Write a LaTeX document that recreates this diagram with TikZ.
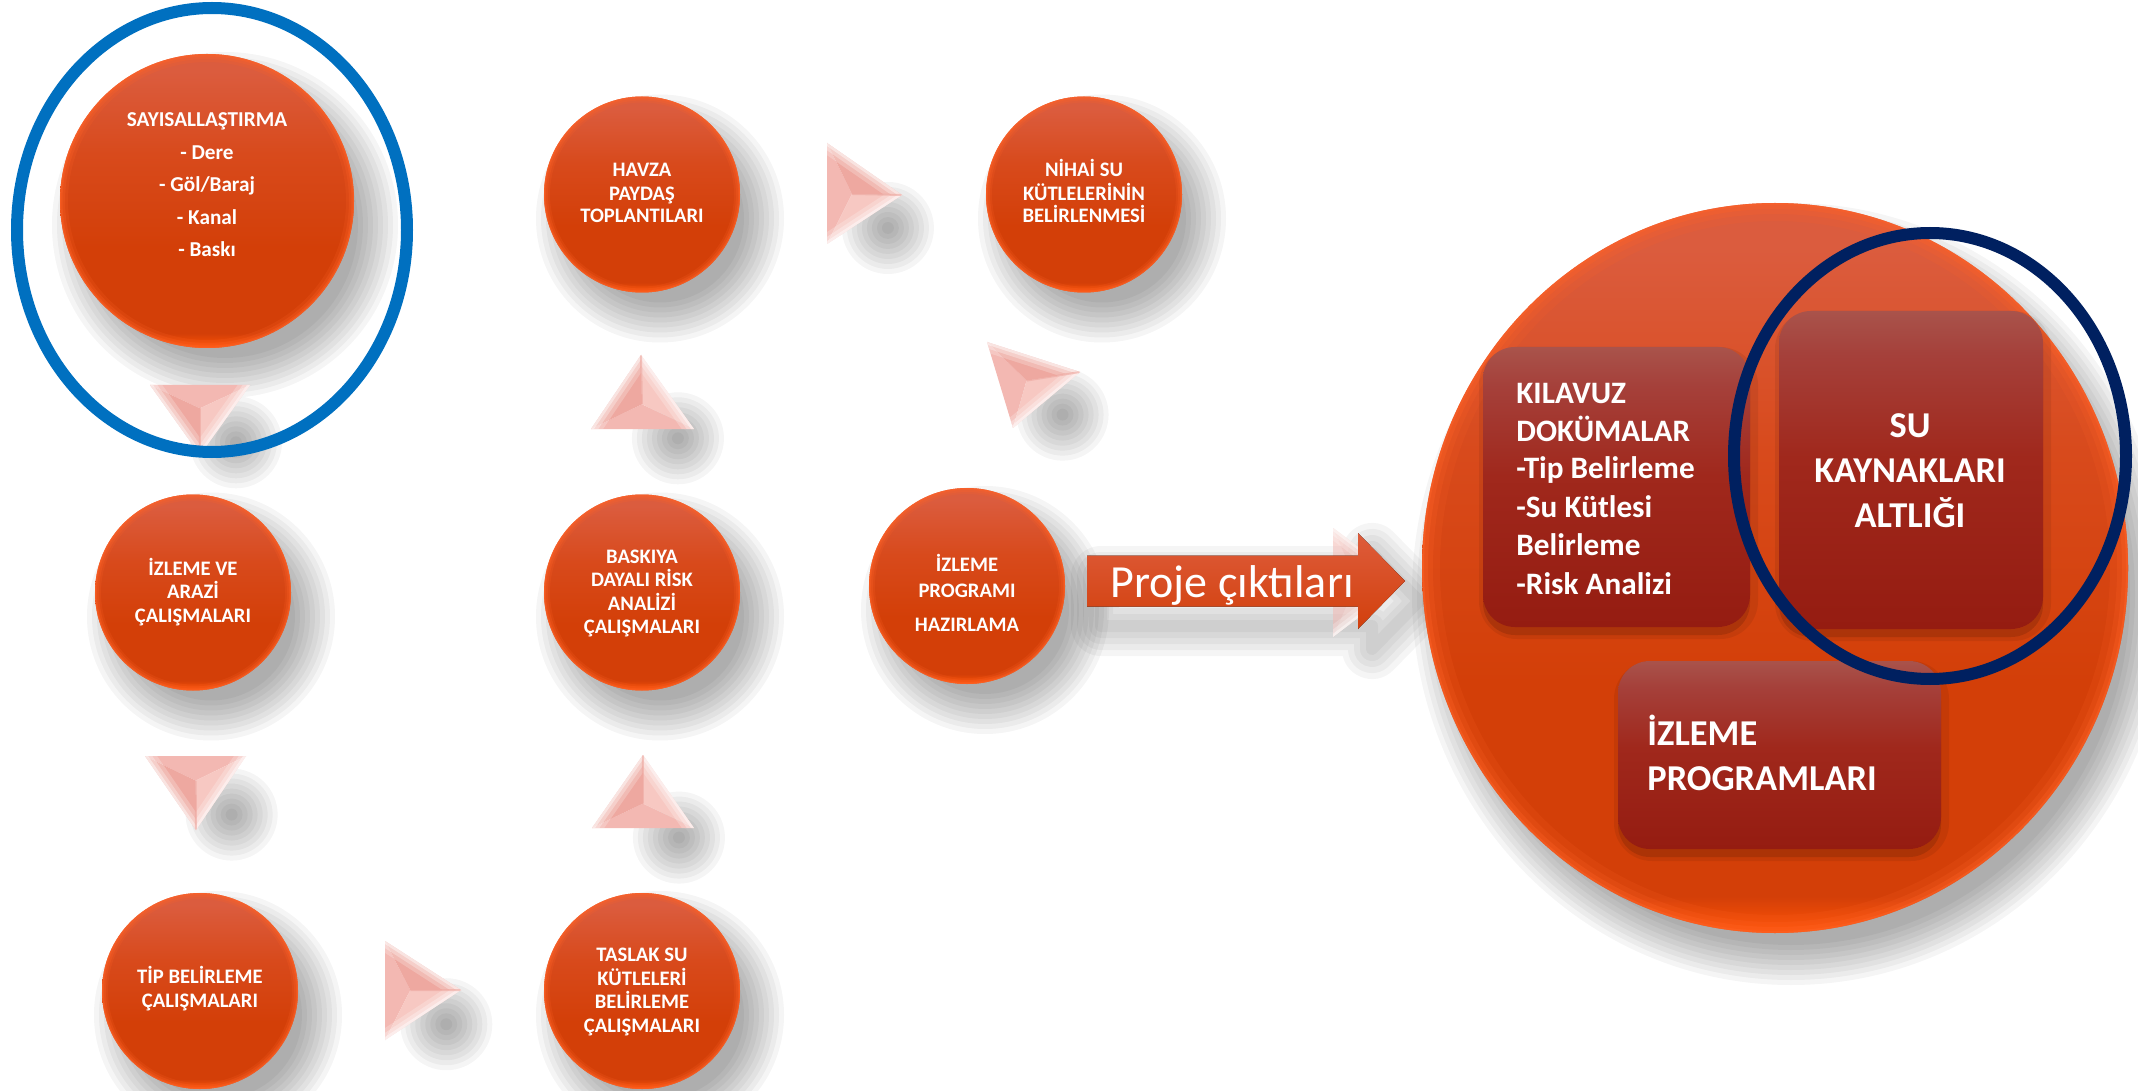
\documentclass[tikz,border=0pt]{standalone}
\usepackage{fontspec}
\setmainfont{Carlito}
\usetikzlibrary{calc,shapes.geometric}
\pgfdeclarelayer{bg}
\pgfsetlayers{bg,main}
\definecolor{balltop}{HTML}{DB5C3E}
\definecolor{ballmid}{HTML}{D84A1C}
\definecolor{ballbot}{HTML}{D33F08}
\definecolor{rimbot}{HTML}{FF5306}
\definecolor{rimglow}{HTML}{FF6226}
\definecolor{boxtop}{HTML}{A9534B}
\definecolor{boxupper}{HTML}{A5403A}
\definecolor{boxmid}{HTML}{A0281C}
\definecolor{boxbot}{HTML}{951C11}
\definecolor{pyrback}{HTML}{F3B8B2}
\definecolor{pyrlight}{HTML}{F7C8C2}
\definecolor{pyrdark}{HTML}{EEA8A0}
\definecolor{ringblue}{HTML}{0070C0}
\definecolor{ringnavy}{HTML}{002060}
\definecolor{arrtop}{HTML}{DE5C3C}
\definecolor{arrbot}{HTML}{D2400C}
\pgfdeclareverticalshading{ballshade}{100bp}{color(0bp)=(rimbot); color(25bp)=(rimbot); color(27.5bp)=(ballbot); color(42bp)=(ballbot); color(58bp)=(ballmid); color(72bp)=(balltop); color(100bp)=(balltop)}
\pgfdeclareverticalshading{boxshade}{100bp}{color(0bp)=(boxbot); color(25bp)=(boxbot); color(52bp)=(boxmid); color(68bp)=(boxupper); color(75bp)=(boxtop); color(100bp)=(boxtop)}
\tikzset{
 glowpic/.style n args={3}{path picture={\foreach \w/\o in {#3}{\draw[rimglow,line width=\w,opacity=\o] (path picture bounding box.center) ellipse[x radius=#1,y radius=#2];}}},
 ball/.style={circle,inner sep=0pt,minimum size=98pt,shade,shading=ballshade,glowpic={49pt}{49pt}{6pt/0.18,4pt/0.25,2pt/0.35,0.8pt/0.5}},
 rbox/.style={rectangle,rounded corners=16pt,inner sep=0pt,shade,shading=boxshade,
   preaction={fill=black,opacity=0.12,transform canvas={yshift=-4pt}},
   preaction={draw=black,line width=6pt,opacity=0.07,transform canvas={xshift=1pt,yshift=-3pt}}},
 circtext/.style={anchor=base,text=white,inner sep=0pt,font=\fontsize{10.3}{12}\selectfont\bfseries},
 saytext/.style={circtext,font=\fontsize{10.6}{12}\selectfont\bfseries},
 kiltext/.style={anchor=base west,text=white,inner sep=0pt,font=\fontsize{15.6}{18}\selectfont\bfseries},
 sutext/.style={anchor=base,text=white,inner sep=0pt,font=\fontsize{18.2}{20}\selectfont\bfseries},
 izptext/.style={sutext,anchor=base west},
 ring/.style={ellipse,inner sep=0pt,line width=6pt}
}
\newcommand{\textlines}[4]{\foreach \yy/\lin [count=\i] in {#4}{\node[#2] (#1tx\i) at (#3,\yy) {\lin};}}
\newcommand{\ballshadow}[5]{\foreach \k in {0,...,8}{\fill[black,opacity=0.04] ($(#1.center)+(#4,#5)$) ellipse[x radius={(#2-14+5*\k)*0.5pt},y radius={(#3-14+5*\k)*0.5pt}];}}
\newcommand{\pyrshadow}[3]{\coordinate (ps) at ($0.3333*(#1)+0.3333*(#2)+0.3333*(#3)+(36,34)$);
 \foreach \k in {0,...,8}{\fill[black,opacity=0.04] (ps) circle[radius={(6+5*\k)*0.5pt}];}}
\newcommand{\pyr}[3]{%
 \coordinate (pg) at ($0.3333*(#1)+0.3333*(#2)+0.3333*(#3)$);
 \fill[pyrback] (#1) -- (#2) -- (pg) -- cycle;
 \fill[pyrlight] (#2) -- (#3) -- (pg) -- cycle;
 \fill[pyrdark] (#3) -- (#1) -- (pg) -- cycle;
 \begin{scope}
  \clip (#1) -- (#2) -- (#3) -- cycle;
  \foreach \w/\o in {20/0.22,12/0.3,5/0.45}{\draw[white,line width=\w*0.5pt,opacity=\o,line join=round] (#2) -- (#3) -- (#1);}
  \draw[pyrdark,line width=1pt,opacity=0.6] (pg) -- (#3);
 \end{scope}}
\begin{document}
\begin{tikzpicture}[x=0.5pt,y=-0.5pt]
\useasboundingbox (0,0) rectangle (2138,1091);
% circles
\node[ball,minimum size=147pt,glowpic={73.5pt}{73.5pt}{8pt/0.18,5pt/0.25,2.5pt/0.35,1pt/0.5}] (say) at (207,201) {};
\node[ball] (havza) at (642,194.5) {};
\node[ball] (nihai) at (1084,194.5) {};
\node[ball] (izl) at (193,592.5) {};
\node[ball] (bask) at (642,592.5) {};
\node[ball] (izp) at (967,586) {};
\node[ball] (tip) at (200,991) {};
\node[ball] (tas) at (642,991) {};
\node[ellipse,inner sep=0pt,minimum width=353pt,minimum height=365pt,shade,shading=ballshade,glowpic={176.5pt}{182.5pt}{18pt/0.15,11pt/0.2,6pt/0.3,2pt/0.45}] (big) at (1775,568) {};
% boxes
\node[rbox,minimum width=133.5pt,minimum height=140pt] (kil) at (1616.5,487) {};
\node[rbox,minimum width=132pt,minimum height=159pt] (suk) at (1911,470) {};
\node[rbox,minimum width=161.5pt,minimum height=94pt] (izpr) at (1779.5,755) {};
% pyramids
\coordinate (t1a) at (150,385); \coordinate (t1b) at (250,385); \coordinate (t1c) at (200,455);
\coordinate (t2a) at (145,756); \coordinate (t2b) at (246,756); \coordinate (t2c) at (196,830);
\coordinate (t3a) at (385,941); \coordinate (t3b) at (385,1040); \coordinate (t3c) at (461,990);
\coordinate (t4a) at (592,828); \coordinate (t4b) at (694,828); \coordinate (t4c) at (643,755);
\coordinate (t5a) at (591,429); \coordinate (t5b) at (694,429); \coordinate (t5c) at (641,355);
\coordinate (t6a) at (827,143); \coordinate (t6b) at (827,244); \coordinate (t6c) at (902,195);
\coordinate (t7a) at (987,342); \coordinate (t7b) at (1013,428); \coordinate (t7c) at (1080,372);
\coordinate (t8a) at (1333,528); \coordinate (t8b) at (1333,637); \coordinate (t8c) at (1405,582);
\pyr{t1a}{t1b}{t1c}
\pyr{t2a}{t2b}{t2c}
\pyr{t3a}{t3b}{t3c}
\pyr{t4a}{t4b}{t4c}
\pyr{t5a}{t5b}{t5c}
\pyr{t6a}{t6b}{t6c}
\pyr{t7a}{t7b}{t7c}
\begin{scope}[opacity=0.55]
\pyr{t8a}{t8b}{t8c}
\end{scope}
% arrow
\coordinate (arrtail) at (1087,581);
\coordinate (arrtip) at (1405,581);
\fill[top color=arrtop,bottom color=arrbot] ($(arrtail)+(0,-25.5)$) -- ($(arrtip)+(-47,-25.5)$) -- ($(arrtip)+(-47,-48)$) -- (arrtip) -- ($(arrtip)+(-47,48)$) -- ($(arrtip)+(-47,25.5)$) -- ($(arrtail)+(0,25.5)$) -- cycle;
\node[anchor=base,text=white,inner sep=0pt,font=\fontsize{23}{26}\selectfont] (proje) at (1232,597) {Proje çıktıları};
% texts
\textlines{say}{saytext}{207}{127/{SAYISALLAŞTIRMA},159.5/{- Dere},192/{- Göl/Baraj},224.5/{- Kanal},257/{- Baskı}}
\textlines{havza}{circtext}{642}{177/{HAVZA},200.5/{PAYDAŞ},223/{TOPLANTILARI}}
\textlines{nihai}{circtext}{1084}{177/{NİHAİ SU},200.5/{KÜTLELERİNİN},223/{BELİRLENMESİ}}
\textlines{izl}{circtext}{193}{575/{İZLEME VE},598.5/{ARAZİ},622/{ÇALIŞMALARI}}
\textlines{bask}{circtext}{642}{563/{BASKIYA},586.5/{DAYALI RİSK},610/{ANALİZİ},633.5/{ÇALIŞMALARI}}
\textlines{izp}{circtext}{967}{571/{İZLEME},597.5/{PROGRAMI},631/{HAZIRLAMA}}
\textlines{tip}{circtext}{200}{983/{TİP BELİRLEME},1007.5/{ÇALIŞMALARI}}
\textlines{tas}{circtext}{642}{961/{TASLAK SU},985/{KÜTLELERİ},1008.5/{BELİRLEME},1032/{ÇALIŞMALARI}}
\textlines{kil}{kiltext}{1516}{403/{KILAVUZ},441/{DOKÜMALAR},479/{-Tip Belirleme},517/{-Su Kütlesi},555.5/{Belirleme},594/{-Risk Analizi}}
\textlines{suk}{sutext}{1910}{437.5/{SU},482/{KAYNAKLARI},527/{ALTLIĞI}}
\textlines{izpr}{izptext}{1647}{745/{İZLEME},790/{PROGRAMLARI}}
% rings
\node[ring,draw=ringblue,minimum width=195pt,minimum height=222pt] (focusA) at (212,230) {};
\node[ring,draw=ringnavy,minimum width=196pt,minimum height=223pt] (focusB) at (1930,456) {};
% shadows
\begin{pgfonlayer}{bg}
\fill[white] (0,0) rectangle (2138,1091);
\ballshadow{say}{147}{147}{18}{24}
\ballshadow{havza}{98}{98}{18}{24}
\ballshadow{nihai}{98}{98}{18}{24}
\ballshadow{izl}{98}{98}{18}{24}
\ballshadow{bask}{98}{98}{18}{24}
\ballshadow{izp}{98}{98}{18}{24}
\ballshadow{tip}{98}{98}{18}{24}
\ballshadow{tas}{98}{98}{18}{24}
\ballshadow{big}{353}{365}{16}{26}
\pyrshadow{t1a}{t1b}{t1c}
\pyrshadow{t2a}{t2b}{t2c}
\pyrshadow{t3a}{t3b}{t3c}
\pyrshadow{t4a}{t4b}{t4c}
\pyrshadow{t5a}{t5b}{t5c}
\pyrshadow{t6a}{t6b}{t6c}
\pyrshadow{t7a}{t7b}{t7c}
\foreach \w in {60,48,36,24,12}{\draw[black,opacity=0.04,line width=\w*0.5pt,line join=round] ($(arrtail)+(14,-5)$) -- ($(arrtip)+(-33,-5)$) -- ($(arrtip)+(-33,-28)$) -- ($(arrtip)+(14,20)$) -- ($(arrtip)+(-33,68)$) -- ($(arrtip)+(-33,45)$) -- ($(arrtail)+(14,45)$) -- cycle;}
\end{pgfonlayer}
\end{tikzpicture}
\end{document}
